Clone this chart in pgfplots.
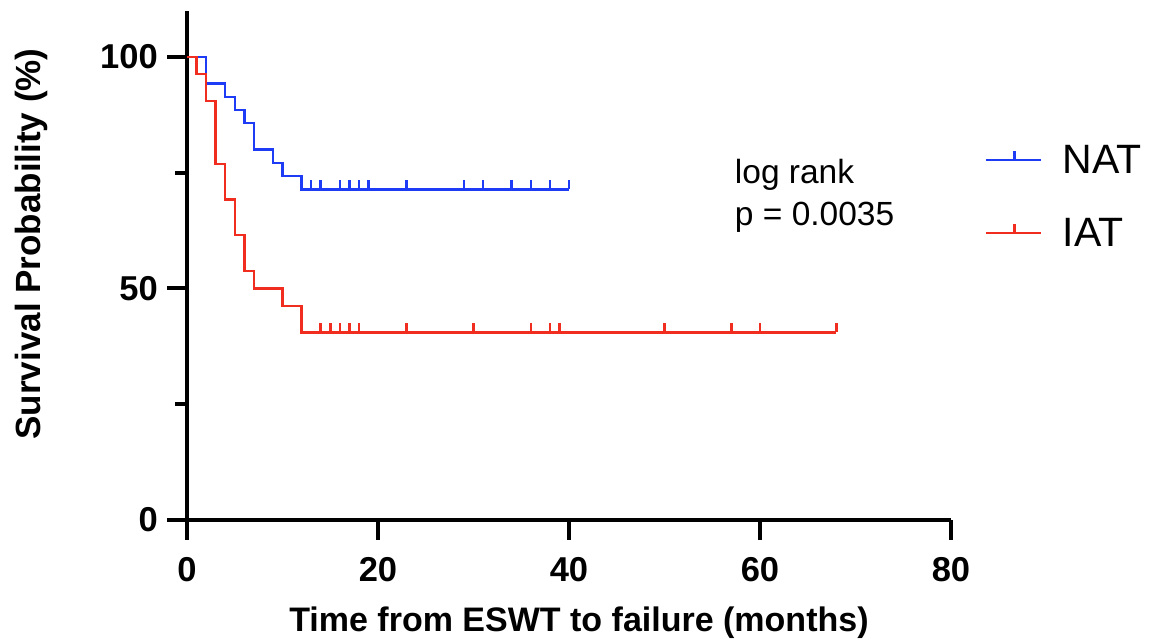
\documentclass[border=0pt]{standalone}
\usepackage{fontspec}
\setmainfont{Liberation Sans}
\usepackage{pgfplots}
\pgfplotsset{compat=1.18}

\definecolor{natblue}{RGB}{30,60,245}
\definecolor{iatred}{RGB}{240,45,30}

% censoring tick: short upward stroke
\pgfdeclareplotmark{cens}{%
  \pgfpathmoveto{\pgfpointorigin}%
  \pgfpathlineto{\pgfpoint{0pt}{9pt}}%
  \pgfusepathqstroke}

\begin{document}
\begin{tikzpicture}
\path[use as bounding box] (0,0) rectangle (1153pt,639pt);
\begin{axis}[
  at={(187pt,119pt)}, anchor=south west,
  scale only axis, width=764pt, height=509.3pt,
  xmin=0, xmax=80, ymin=0, ymax=110,
  axis lines=left,
  axis line style={-, line width=4pt},
  xtick={0,20,40,60,80}, ytick={0,50,100}, minor ytick={25,75},
  tick align=outside,
  major tick length=20pt, minor tick length=12pt,
  every tick/.style={line width=4pt, black},
  minor tick style={line width=4pt, black},
  /pgf/number format/assume math mode=true,
  ticklabel style={font=\fontsize{34.5}{34.5}\selectfont\bfseries, inner sep=0pt},
  xticklabel style={anchor=north, yshift=-17pt},
  yticklabel style={anchor=east, xshift=-9pt},
  xlabel={Time from ESWT to failure (months)},
  ylabel={Survival Probability (\%)},
  label style={font=\fontsize{34}{34}\selectfont\bfseries, inner sep=0pt},
  xlabel style={at={(axis description cs:0.513,-0.218)}, anchor=base},
  ylabel style={at={(axis description cs:-0.204,0.542)}, anchor=center,
    font=\fontsize{35}{35}\selectfont\bfseries},
  legend style={at={(axis description cs:1.0445,0.7363)}, anchor=north west,
    draw=none, fill=none, inner sep=0pt, row sep=43pt, column sep=20pt,
    font=\fontsize{41}{41}\selectfont, nodes={inner sep=0pt}},
  legend cell align=left,
  legend image code/.code={
    \draw[#1] (0pt,0pt) -- (55pt,0pt);
    \draw[#1] (28pt,0pt) -- (28pt,9pt);},
  clip=false,
]
% NAT
\addplot[const plot, natblue, line width=2.5pt, forget plot] coordinates {
  (0,100) (2,94.3) (4,91.4) (5,88.6) (6,85.7) (7,80.0) (9,77.1) (10,74.3) (12,71.4) (40,71.4)};
\addplot[only marks, mark=cens, natblue, mark options={line width=2.5pt}, forget plot] coordinates {
  (13,71.4) (14,71.4) (16,71.4) (17,71.4) (18,71.4) (19,71.4) (23,71.4)
  (29,71.4) (31,71.4) (34,71.4) (36,71.4) (38,71.4) (40,71.4)};
% IAT
\addplot[const plot, iatred, line width=2.5pt, forget plot] coordinates {
  (0,100) (1,96.3) (2,90.5) (3,76.9) (4,69.2) (5,61.5) (6,53.8) (7,50.0) (10,46.2) (12,40.5) (68,40.5)};
\addplot[only marks, mark=cens, iatred, mark options={line width=2.5pt}, forget plot] coordinates {
  (14,40.5) (15,40.5) (16,40.5) (17,40.5) (18,40.5) (23,40.5) (30,40.5)
  (36,40.5) (38,40.5) (39,40.5) (50,40.5) (57,40.5) (60,40.5) (68,40.5)};

\addlegendimage{natblue, line width=2.5pt}
\addlegendentry{NAT}
\addlegendimage{iatred, line width=2.5pt}
\addlegendentry{IAT}

\node[anchor=base west, inner sep=0pt, font=\fontsize{33.5}{33.5}\selectfont]
  at (axis description cs:0.717,0.660) {log rank};
\node[anchor=base west, inner sep=0pt, font=\fontsize{33.5}{33.5}\selectfont]
  at (axis description cs:0.717,0.579) {p = 0.0035};
\end{axis}
\end{tikzpicture}
\end{document}
